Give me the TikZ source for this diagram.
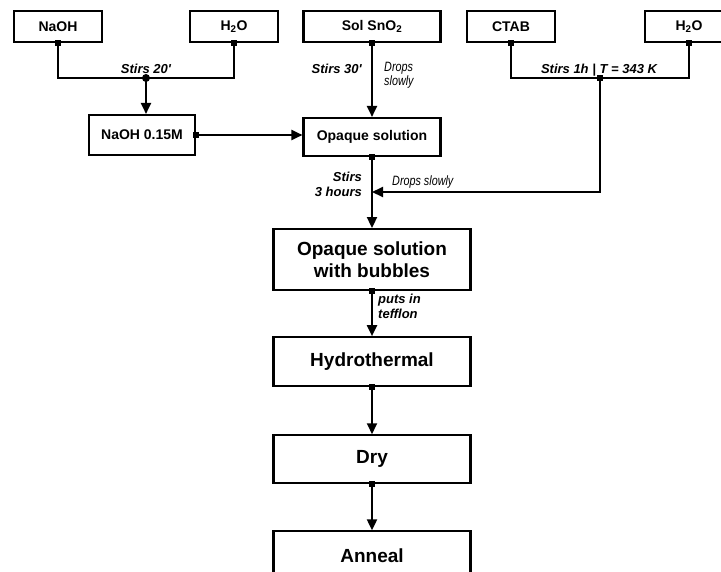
\documentclass[tikz,border=0pt]{standalone}
\usepackage{fontspec}
\setmainfont{Liberation Sans}
\newfontfamily\narrowsans[FakeStretch=0.8]{Liberation Sans}
\usetikzlibrary{positioning,arrows.meta,calc}

\begin{document}
\begin{tikzpicture}[x=1pt,y=1pt,>={Triangle[length=11pt,width=10pt]},
   node distance=45pt,
   box/.style={draw,line width=2.1pt,inner sep=0pt,
     font=\fontsize{14}{16}\selectfont\bfseries},
   smallbox/.style={box,minimum width=88pt,minimum height=31pt},
   bigbox/.style={box,minimum width=197pt,align=center,
     font=\fontsize{19}{22}\selectfont\bfseries},
   flow/.style={line width=2pt},
   joint/.style={fill,inner sep=0pt,minimum size=6pt},
   dot/.style={circle,fill,inner sep=0pt,minimum size=8pt},
   note/.style={inner sep=0pt,font=\fontsize{13}{15}\selectfont\bfseries\itshape},
   hint/.style={inner sep=0pt,align=left,
     font=\narrowsans\fontsize{13.5}{14}\selectfont\itshape}]
  \useasboundingbox (0,0) rectangle (721,-571);
  \clip (0,0) rectangle (721,-571);

  % starting materials
  \node[smallbox] (naoh) at (58,-26.5) {NaOH};
  \node[smallbox] (wa) at (234,-26.5) {H\textsubscript{2}O};
  \node[box,minimum width=137pt,minimum height=31pt] (sol) at (372,-26.5) {Sol SnO\textsubscript{2}};
  \node[smallbox] (ctab) at (511,-26.5) {CTAB};
  \node[smallbox] (wb) at (689,-26.5) {H\textsubscript{2}O};

  % process line
  \node[box,minimum width=106pt,minimum height=40pt] (naohm) at (142,-135) {NaOH 0.15M};
  \node[box,minimum width=137pt,minimum height=38pt] (opq) at (372,-137) {Opaque solution};
  \node[bigbox,minimum height=61pt,below=71pt of opq] (bub) {Opaque solution\\with bubbles};
  \node[bigbox,minimum height=49pt,below=of bub] (hyd) {Hydrothermal};
  \node[bigbox,minimum height=48pt,below=47pt of hyd] (dry) {Dry};
  \node[bigbox,minimum height=48pt,below=46pt of dry] (ann) {Anneal};

  % junctions
  \coordinate (j1) at (146,-78);
  \coordinate (j2) at (600,-78);
  \coordinate (bend) at (600,-192);
  \coordinate (j3) at (opq.south |- bend);

  \draw[flow] (naoh.south) |- (j1) -| (wa.south);
  \draw[flow,->] (j1) -- (j1 |- naohm.north);
  \draw[flow,->] (naohm.east) -- (naohm.east -| opq.west);
  \draw[flow,->] (sol.south) -- (opq.north);
  \draw[flow] (ctab.south) |- (j2) -| (wb.south);
  \draw[flow,->] (j2) -- (bend) -- (j3);
  \draw[flow,->] (opq.south) -- (bub.north);
  \draw[flow,->] (bub.south) -- (hyd.north);
  \draw[flow,->] (hyd.south) -- (dry.north);
  \draw[flow,->] (dry.south) -- (ann.north);

  \foreach \n in {naoh,wa,sol,ctab,wb,opq,bub,hyd,dry}
    \node[joint] (\n-out) at (\n.south) {};
  \node[joint] (naohm-out) at (naohm.east) {};
  \node[joint] (j2-pt) at (j2) {};
  \node[dot] (j1-pt) at (j1) {};

  % conditions
  \node[note,anchor=base] (s20) at (146,-73) {Stirs 20\textquotesingle};
  \node[note,anchor=base east] (s30) at (362,-73) {Stirs 30\textquotesingle};
  \node[hint,anchor=north west] (drop1) at (384,-62) {Drops\\slowly};
  \node[note,anchor=base] (s1h) at (599,-73) {Stirs 1h | T = 343 K};
  \node[hint,anchor=base west] (drop2) at (392,-185) {Drops slowly};
  \node[note,align=right,anchor=north east] (s3h) at (362,-172) {Stirs\\3 hours};
  \node[note,align=left,anchor=north west] (tef) at (378,-294) {puts in\\tefflon};
\end{tikzpicture}
\end{document}
